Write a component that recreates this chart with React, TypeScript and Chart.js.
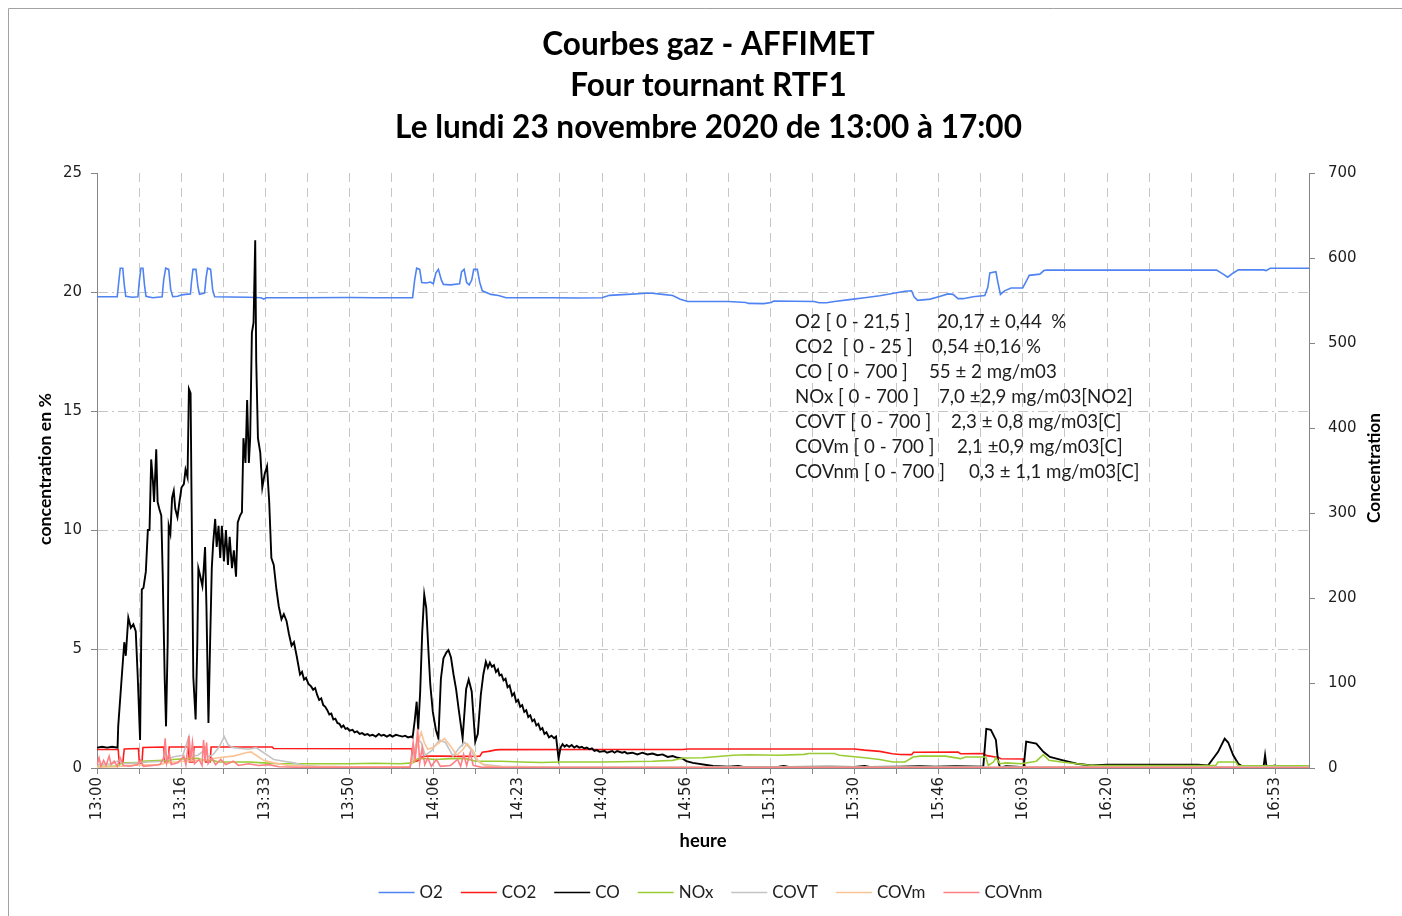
import React, { useEffect, useRef } from 'react';
import { Chart, registerables } from 'chart.js';

Chart.register(...registerables);

// ---------------- DATA ----------------
const TITLE_LINES = [
  'Courbes gaz - AFFIMET',
  'Four tournant RTF1',
  'Le lundi 23 novembre 2020 de 13:00 à 17:00',
];

// x values are minutes since 13:00 ; grid every 500 s, labels every 1000 s
const X_MIN = 0;
const X_MAX = 240;
const X_GRID_STEP = 500 / 60;
const X_LABEL_STEP = 1000 / 60;
const X_TICK_LABELS = [
  '13:00', '13:16', '13:33', '13:50', '14:06', '14:23', '14:40', '14:56',
  '15:13', '15:30', '15:46', '16:03', '16:20', '16:36', '16:53',
];

const LEFT_MAX = 25;
const LEFT_STEP = 5;
const RIGHT_MAX = 700;
const RIGHT_STEP = 100;

const SERIES_NAMES = ['O2', 'CO2', 'CO', 'NOx', 'COVT', 'COVm', 'COVnm'];
const SERIES_COLORS = ['#4f83f2', '#ff1a1a', '#000000', '#99cc33', '#c4c4c4', '#fac394', '#ff7f84'];
const SERIES_AXES = ['yPct', 'yPct', 'yMg', 'yMg', 'yMg', 'yMg', 'yMg'];

// O2 (%), left axis
const O2: [number, number][] = [
  [0, 19.8], [4.0, 19.8], [4.3, 20.4], [4.6, 21.0], [5.1, 21.0], [5.4, 20.3], [5.7, 19.82], [7, 19.78],
  [8.1, 19.8], [8.4, 20.5], [8.7, 21.0], [9.1, 21.0], [9.4, 20.3], [9.7, 19.82], [11, 19.76], [12.9, 19.8],
  [13.2, 20.5], [13.6, 21.0], [14.2, 20.95], [14.6, 20.1], [15, 19.8], [16, 19.82], [16.8, 19.88], [17.5, 19.9],
  [18.5, 19.92], [18.7, 20.4], [19.0, 20.95], [19.6, 20.95], [20, 20.2], [20.3, 19.9], [21.3, 19.95], [21.6, 20.6],
  [21.9, 21.0], [22.5, 20.95], [22.9, 20.1], [23.3, 19.8], [30, 19.78], [32.5, 19.76], [33, 19.7], [33.5, 19.76],
  [40, 19.76], [50, 19.77], [55, 19.76], [62.5, 19.76], [62.9, 20.5], [63.3, 21.0], [63.9, 20.95], [64.3, 20.4],
  [65.2, 20.38], [66, 20.42], [66.6, 20.35], [67.1, 20.8], [67.6, 20.95], [68.2, 20.5], [68.6, 20.32], [70, 20.3],
  [71.8, 20.35], [72.2, 20.85], [72.7, 20.95], [73.2, 20.4], [73.7, 20.3], [74.2, 20.5], [74.6, 20.95], [75.3, 20.95],
  [75.8, 20.4], [76.3, 20.05], [78, 19.9], [79.5, 19.85], [81, 19.76], [90, 19.76], [95, 19.75], [100, 19.76],
  [101.5, 19.86], [105, 19.9], [108, 19.94], [109.5, 19.96], [112, 19.9], [114, 19.85], [115.5, 19.7], [117, 19.6],
  [125, 19.6], [128.5, 19.56], [129, 19.52], [132, 19.51], [133.5, 19.56], [134, 19.62], [142, 19.6], [143, 19.55],
  [144.5, 19.55], [146, 19.6], [149, 19.68], [152, 19.76], [155, 19.84], [157.5, 19.94], [160, 20.03], [161.3, 20.05],
  [161.8, 19.8], [162.5, 19.65], [165, 19.7], [167, 19.82], [168.5, 19.92], [169.5, 19.9], [170.5, 19.72], [171.5, 19.72],
  [173.5, 19.8], [175.8, 19.85], [176.4, 20.2], [176.8, 20.8], [178, 20.85], [178.4, 20.4], [178.9, 19.9], [179.7, 20.05],
  [181, 20.17], [183.3, 20.17], [184, 20.45], [184.6, 20.7], [186.7, 20.75], [187.5, 20.9], [188, 20.92], [221.7, 20.92],
  [223, 20.75], [223.9, 20.62], [225, 20.8], [226, 20.93], [231, 20.93], [231.5, 20.9], [232.3, 21.0], [240, 21.0],
];

// CO2 (%), left axis
const CO2: [number, number][] = [
  [0, 0.78], [4.2, 0.78], [4.4, 0.2], [5.1, 0.2], [5.4, 0.8], [8.2, 0.82], [8.4, 0.2], [8.9, 0.2], [9.1, 0.86],
  [13.2, 0.88], [13.4, 0.25], [14.1, 0.25], [14.3, 0.88], [18.1, 0.88], [18.3, 0.25], [19.0, 0.25], [19.2, 0.88],
  [21.3, 0.88], [21.5, 0.25], [22.4, 0.25], [22.6, 0.88], [34.7, 0.88], [35.0, 0.82], [62.3, 0.81], [62.6, 0.25],
  [63.5, 0.3], [64.2, 0.45], [65, 0.5], [68, 0.5], [72, 0.49], [75.8, 0.5], [76.3, 0.66], [77.5, 0.7], [79, 0.76],
  [80, 0.77], [100, 0.78], [116, 0.78], [117, 0.8], [150, 0.8], [152, 0.75], [155, 0.7], [157.5, 0.6], [159, 0.57],
  [161.3, 0.56], [161.7, 0.66], [170.5, 0.67], [171, 0.6], [175.5, 0.61], [176.2, 0.52], [178.5, 0.44], [179, 0.39],
  [183.4, 0.38], [183.8, 0.06], [240, 0.04],
];

// CO (mg/m03), right axis
const CO: [number, number][] = [
  [0, 24], [1, 25], [2, 24], [3, 25], [4.07, 24], [4.2, 49], [4.9, 107], [5.4, 148], [5.7, 132], [6.2, 177],
  [6.7, 165], [7.2, 169], [7.67, 161], [8.07, 107], [8.53, 33], [8.87, 210], [9.2, 212], [9.67, 231], [10.07, 280],
  [10.4, 280], [10.73, 363], [11.07, 338], [11.3, 313], [11.73, 375], [12, 313], [12.33, 305], [12.73, 297], [13, 231],
  [13.4, 107], [13.67, 49], [14, 148], [14.2, 285], [14.53, 276], [14.87, 318], [15.2, 326], [15.5, 305], [15.93, 295],
  [16.33, 313], [16.73, 330], [17.2, 334], [17.53, 351], [17.93, 342], [18.2, 446], [18.53, 441], [18.73, 313],
  [19.07, 107], [19.53, 57], [19.87, 148], [20.07, 235], [20.4, 227], [20.87, 214], [21.1, 231], [21.4, 260],
  [21.67, 190], [22.07, 53], [22.4, 148], [22.73, 235], [23, 264], [23.4, 293], [23.7, 260], [24.07, 285], [24.4, 247],
  [24.73, 285], [25.13, 243], [25.53, 280], [25.93, 239], [26.27, 272], [26.73, 235], [27.1, 256], [27.53, 225],
  [27.87, 289], [28.33, 297], [28.7, 301], [29, 388], [29.4, 359], [29.73, 433], [30.07, 359], [30.33, 388],
  [30.67, 512], [31, 524], [31.33, 621], [31.53, 479], [31.87, 388], [32.33, 371], [32.73, 330], [33.2, 346],
  [33.67, 355], [34.1, 313], [34.53, 247], [35, 239], [35.53, 210], [36, 190], [36.53, 175], [37, 181], [37.53, 173],
  [38, 158], [38.53, 144], [39, 148], [39.53, 132], [40.2, 110], [40.6, 113], [41, 104], [41.4, 106], [41.87, 99],
  [42.4, 96], [42.8, 92], [43.2, 94], [43.6, 86], [44, 80], [44.4, 82], [44.8, 74], [45.2, 72], [45.6, 68], [46, 63],
  [46.4, 64], [46.8, 57], [47.2, 58], [47.6, 53], [48, 52], [48.4, 48], [48.8, 50], [49.2, 46], [49.6, 47], [50, 44],
  [50.6, 45], [51, 42], [51.5, 43], [52, 40], [52.5, 41], [53, 39], [53.6, 40], [54, 38], [54.6, 39], [55.2, 37],
  [55.8, 40], [56.3, 38], [56.8, 39], [57.4, 37], [58, 39], [58.5, 37], [59.2, 39], [59.8, 38], [60.5, 37], [61, 38],
  [61.6, 36], [62.2, 37], [62.5, 36], [62.9, 55], [63.3, 78], [63.6, 45], [64.0, 90], [64.4, 160], [64.8, 204],
  [65.2, 188], [65.7, 130], [66.0, 98], [66.5, 66], [67.1, 45], [67.6, 35], [68.1, 105], [68.6, 129], [69.2, 136],
  [69.6, 138.6], [70.1, 130], [70.6, 110], [71.1, 93], [71.6, 70], [72.4, 35], [73.1, 93], [73.6, 104], [74.2, 90],
  [74.9, 31], [75.4, 40], [76.0, 86], [76.5, 110], [77, 125], [77.4, 118], [77.8, 124], [78.2, 119], [78.6, 121],
  [79, 113], [79.4, 116], [79.7, 109], [80.1, 110], [80.5, 103], [80.9, 105], [81.3, 95], [81.7, 97], [82.2, 85],
  [82.6, 88], [83, 78], [83.4, 80], [83.8, 72], [84.2, 74], [84.6, 66], [85, 68], [85.4, 60], [85.8, 62], [86.2, 55],
  [86.6, 57], [87, 50], [87.4, 52], [87.8, 45], [88.2, 47], [88.6, 40], [89, 42], [89.5, 36], [90, 38], [90.5, 35],
  [90.9, 37], [91.4, 11], [91.8, 24], [92.2, 28], [92.6, 25], [93, 27], [93.5, 25], [94, 27], [94.5, 24], [95, 26],
  [95.5, 24], [96, 25], [96.5, 23], [97, 24], [97.5, 22], [98, 23], [98.5, 20], [99, 21], [99.5, 19], [100.5, 20],
  [101, 18], [102, 20], [102.5, 18], [103, 20], [104, 18], [104.5, 19], [105, 17], [106, 18], [107, 16], [108, 18],
  [109, 16], [110, 17], [111, 15], [112, 16], [113, 13], [114, 14], [115, 12], [116, 11], [116.7, 8], [118, 6],
  [122, 2.4], [125, 1.5], [127, 2.5], [128, 1.2], [135, 1.5], [136, 2.5], [137, 1.2], [145, 1.5], [150, 1.2],
  [152, 2.5], [153, 1.2], [159, 1.5], [163, 2], [166, 1.5], [170, 2], [175.5, 1.5], [176.1, 46], [177, 45], [178, 33],
  [178.4, 10], [178.8, 0.5], [180, 2], [182, 1.5], [183.5, 1], [184, 31], [186, 28.7], [187.4, 19], [188.7, 13],
  [191.3, 9], [194, 5], [197, 3], [200, 4], [210, 4], [218, 4], [220, 3], [222, 19], [223.3, 34.6], [224, 30],
  [225, 15], [226, 5], [227, 1], [231, 1], [231.3, 15], [231.6, 1], [233.3, 3], [234, 1], [236.5, 2.5], [237, 1],
  [238.5, 1],
];

// NOx (mg/m03 [NO2]), right axis
const NOX: [number, number][] = [
  [0, 2], [4.3, 2], [4.6, 5], [5.5, 6], [8.3, 6.3], [9, 8], [13, 9], [14, 8], [15, 10], [18, 11], [20, 11.5],
  [21, 9], [23, 9], [24, 7], [30, 7], [33, 6], [36, 5], [40, 5], [50, 5], [55, 5.5], [60, 5], [62.5, 6], [63.5, 11],
  [65, 11], [67, 10], [70, 11], [73, 11], [75, 8], [77, 8], [80, 8], [84, 7], [88, 6.5], [92, 7], [100, 7],
  [110, 8], [114, 9], [116, 11.8], [120, 12], [126, 15], [129, 15.5], [135, 15], [140, 16], [141, 17], [146, 17],
  [147, 15], [152, 12], [155, 10], [157.6, 7], [160, 7], [161.6, 13], [163, 14], [168, 14], [171, 11], [172, 13],
  [176, 13], [176.5, 3], [177.5, 7], [178, 12], [178.8, 5], [180, 6], [183, 5], [186, 8], [186.7, 12], [187.4, 15.7],
  [188.5, 9], [191, 7], [194, 5], [197, 3], [210, 2.8], [221.5, 2.8], [222, 7], [225.5, 7], [226, 2.5], [240, 2.5],
];

// COVT (mg/m03 [C]), right axis
const COVT: [number, number][] = [
  [0, 4], [3, 5], [4.4, 9], [5, 5], [8, 6], [10, 7], [13, 8], [13.5, 18], [14, 9], [15, 13], [17, 15], [18.2, 37],
  [18.6, 14], [20, 15], [21.5, 22], [22, 13], [23, 16], [24.2, 25], [25.2, 37], [26, 27], [27, 24], [28.5, 23],
  [30, 22], [31.5, 24], [32.5, 20], [34, 14], [35, 10], [37, 8], [39, 6], [41, 3], [44, 2], [50, 1.5], [62, 1.5],
  [62.7, 18], [63.5, 34], [64.2, 30], [65, 15], [66.2, 20], [67.8, 33], [69, 30], [70.5, 14], [71.8, 24], [72.8, 30],
  [74, 22], [75, 10], [76.5, 4], [80, 2], [90, 1], [240, 1],
];

// COVm (mg/m03 [C]), right axis
const COVM: [number, number][] = [
  [0, 1], [4, 1.5], [6, 3], [12, 4], [14, 6], [17, 8], [20, 9], [22, 10], [24, 12], [27, 14], [29.5, 18], [30.5, 19],
  [31.5, 15], [33, 9], [35, 6], [38, 3], [42, 2], [50, 1.5], [62, 1.5], [62.8, 12], [63.6, 30], [64.2, 42],
  [64.8, 30], [65.5, 22], [66.5, 24], [68.8, 34.6], [70, 26], [71.2, 15], [72.5, 22], [73.3, 28.7], [74.5, 20],
  [75.5, 8], [77, 2.5], [80, 1.5], [90, 0.8], [240, 0.5],
];

// COVnm (mg/m03 [C]), right axis
const COVNM: [number, number][] = [
  [0, 3], [0.4, 12], [0.8, 2], [1.3, 9], [1.8, 3], [2.4, 14], [2.8, 4], [3.4, 8], [4.0, 2], [4.6, 12], [5.2, 3],
  [6.5, 2], [8, 4], [8.6, 9], [9.2, 2], [11, 3], [12.5, 4], [13.2, 12], [13.5, 35], [13.8, 6], [14.3, 18], [14.7, 4],
  [16, 6], [17.2, 14], [17.6, 4], [18.0, 25], [18.2, 38], [18.5, 8], [18.9, 30], [19.3, 5], [20.2, 10], [20.8, 3],
  [21.1, 33], [21.4, 8], [21.7, 30], [22.0, 5], [22.7, 12], [23.5, 4], [24.5, 10], [25.5, 4], [27, 8], [28, 3],
  [30, 5], [32, 3], [34, 4], [36, 1.5], [40, 0.8], [62, 0.8], [62.6, 30], [63.0, 8], [63.5, 46], [63.9, 6],
  [64.4, 24], [64.9, 4], [65.5, 12], [66.2, 2], [67.2, 10], [68, 2], [70, 3], [71.4, 10], [72.0, 2], [72.6, 16],
  [73.2, 3], [73.9, 18], [74.5, 3], [76, 1], [80, 0.5], [240, 0.3],
];

const SERIES_POINTS = [O2, CO2, CO, NOX, COVT, COVM, COVNM];

const ANNOTATION_LABELS = [
  'O2 [ 0 - 21,5 ]',
  'CO2  [ 0 - 25 ]',
  'CO [ 0 - 700 ]',
  'NOx [ 0 - 700 ]',
  'COVT [ 0 - 700 ]',
  'COVm [ 0 - 700 ]',
  'COVnm [ 0 - 700 ]',
];
const ANNOTATION_VALUES = [
  '20,17 ± 0,44  %',
  '0,54 ±0,16 %',
  '55 ± 2 mg/m03',
  '7,0 ±2,9 mg/m03[NO2]',
  '2,3 ± 0,8 mg/m03[C]',
  '2,1 ±0,9 mg/m03[C]',
  '0,3 ± 1,1 mg/m03[C]',
];

const LEFT_AXIS_TITLE = 'concentration en %';
const RIGHT_AXIS_TITLE = 'Concentration';
const X_AXIS_TITLE = 'heure';

// ---------------- LAYOUT ----------------
const W = 1402;
const H = 916;
const PLOT = { left: 97, right: 1309, top: 173, bottom: 768 };
const AXIS_COLOR = '#868686';
const GRID_COLOR = '#c6c6c6';
const TEXT_COLOR = '#1e1e1e';
const TRANSPARENT = 'rgba(0,0,0,0)';
const ANNOT_VALUE_X = [937, 932, 929, 939, 951, 957, 969];

function fitSize(ctx: CanvasRenderingContext2D, text: string, weight: string, family: string, target: number) {
  ctx.font = `${weight} 100px ${family}`;
  const w = ctx.measureText(text).width;
  return (100 * target) / w;
}

function xLabel(value: number) {
  const idx = Math.round(value / X_LABEL_STEP);
  if (Math.abs(value - idx * X_LABEL_STEP) < 1e-6 && idx >= 0 && idx < X_TICK_LABELS.length) {
    return X_TICK_LABELS[idx];
  }
  return '';
}

const decorPlugin = {
  id: 'decor',
  beforeDraw(chart: any) {
    const ctx = chart.ctx as CanvasRenderingContext2D;
    ctx.save();
    ctx.fillStyle = '#ffffff';
    ctx.fillRect(0, 0, chart.width, chart.height);
    ctx.strokeStyle = '#a2a2a2';
    ctx.lineWidth = 1;
    ctx.beginPath();
    ctx.moveTo(8.5, H);
    ctx.lineTo(8.5, 8.5);
    ctx.lineTo(W, 8.5);
    ctx.stroke();
    ctx.restore();
  },
  afterDraw(chart: any) {
    const ctx = chart.ctx as CanvasRenderingContext2D;
    ctx.save();
    ctx.fillStyle = '#000';
    ctx.textAlign = 'center';
    ctx.textBaseline = 'middle';

    // Title
    const ts = fitSize(ctx, TITLE_LINES[2], 'bold', 'Lato', 627);
    ctx.font = `bold ${ts}px Lato`;
    const titleY = [45, 86, 128];
    TITLE_LINES.forEach((line, i) => ctx.fillText(line, 708.5, titleY[i]));

    // Axis titles
    const ls = fitSize(ctx, LEFT_AXIS_TITLE, 'bold', 'Lato', 152);
    ctx.font = `bold ${ls}px Lato`;
    ctx.save();
    ctx.translate(45, 469);
    ctx.rotate(-Math.PI / 2);
    ctx.fillText(LEFT_AXIS_TITLE, 0, 0);
    ctx.restore();

    const rs = fitSize(ctx, RIGHT_AXIS_TITLE, 'bold', 'Lato', 110);
    ctx.font = `bold ${rs}px Lato`;
    ctx.save();
    ctx.translate(1374, 468);
    ctx.rotate(-Math.PI / 2);
    ctx.fillText(RIGHT_AXIS_TITLE, 0, 0);
    ctx.restore();

    const hs = fitSize(ctx, X_AXIS_TITLE, 'bold', 'Lato', 47);
    ctx.font = `bold ${hs}px Lato`;
    ctx.fillText(X_AXIS_TITLE, 703, 841);

    // Annotation block
    const as = fitSize(ctx, ANNOTATION_LABELS[6], 'normal', 'Lato', 150);
    ctx.font = `${as}px Lato`;
    ctx.fillStyle = TEXT_COLOR;
    ctx.textAlign = 'left';
    ANNOTATION_LABELS.forEach((lab, i) => {
      const y = 321.5 + i * 25.1;
      ctx.fillText(lab, 795, y);
      ctx.fillText(ANNOTATION_VALUES[i], ANNOT_VALUE_X[i], y);
    });

    // Legend
    const datasets = chart.data.datasets;
    const gs = fitSize(ctx, 'COVnm', 'normal', 'Lato', 58);
    ctx.font = `${gs}px Lato`;
    const lineLen = 36;
    const gap = 5;
    const itemGap = 18;
    const widths = datasets.map((d: any) => lineLen + gap + ctx.measureText(d.label).width);
    const total = widths.reduce((a: number, b: number) => a + b, 0) + itemGap * (widths.length - 1);
    let x = 710.5 - total / 2;
    const ly = 892;
    datasets.forEach((d: any, i: number) => {
      ctx.strokeStyle = d.borderColor;
      ctx.lineWidth = 1.5;
      ctx.beginPath();
      ctx.moveTo(x, ly + 0.5);
      ctx.lineTo(x + lineLen, ly + 0.5);
      ctx.stroke();
      ctx.fillStyle = TEXT_COLOR;
      ctx.fillText(d.label, x + lineLen + gap, ly + 1);
      x += widths[i] + itemGap;
    });
    ctx.restore();
  },
};

export default function App() {
  const canvasRef = useRef<HTMLCanvasElement | null>(null);

  useEffect(() => {
    const canvas = canvasRef.current;
    if (!canvas) return;
    const tickFont = { family: 'DejaVu Sans', size: 15 };
    const chart = new Chart(canvas, {
      type: 'line',
      data: {
        datasets: SERIES_NAMES.map((name, i) => ({
          label: name,
          data: SERIES_POINTS[i].map(([x, y]) => ({ x, y })),
          borderColor: SERIES_COLORS[i],
          backgroundColor: SERIES_COLORS[i],
          borderWidth: i === 2 ? 1.9 : 1.6,
          pointRadius: 0,
          tension: 0,
          fill: false,
          yAxisID: SERIES_AXES[i],
          order: SERIES_NAMES.length - i,
        })),
      },
      options: {
        responsive: false,
        animation: false,
        devicePixelRatio: 1,
        events: [],
        layout: { padding: { top: PLOT.top, left: 0, right: 0, bottom: 0 } },
        plugins: {
          legend: { display: false },
          title: { display: false },
          tooltip: { enabled: false },
        },
        scales: {
          x: {
            type: 'linear',
            min: X_MIN,
            max: X_MAX,
            ticks: {
              stepSize: X_GRID_STEP,
              includeBounds: false,
              autoSkip: false,
              maxRotation: 90,
              minRotation: 90,
              padding: 3,
              color: TEXT_COLOR,
              font: tickFont,
              callback: (v: any) => xLabel(Number(v)),
            },
            grid: {
              color: (c: any) => (c.tick && c.tick.value < 0.001 ? TRANSPARENT : GRID_COLOR),
              lineWidth: 1,
              tickLength: 6,
              tickColor: AXIS_COLOR,
            },
            border: { color: AXIS_COLOR, width: 1, dash: [9, 6] },
            afterFit: (s: any) => {
              s.height = H - PLOT.bottom;
            },
          },
          yPct: {
            type: 'linear',
            position: 'left',
            min: 0,
            max: LEFT_MAX,
            ticks: { stepSize: LEFT_STEP, padding: 9, color: TEXT_COLOR, font: tickFont },
            grid: {
              color: (c: any) =>
                c.tick && (c.tick.value <= 0 || c.tick.value >= LEFT_MAX) ? TRANSPARENT : GRID_COLOR,
              lineWidth: 1,
              tickLength: 6,
              tickColor: AXIS_COLOR,
            },
            border: { color: AXIS_COLOR, width: 1, dash: [10, 4, 2, 4] },
            afterFit: (s: any) => {
              s.width = PLOT.left;
            },
          },
          yMg: {
            type: 'linear',
            position: 'right',
            min: 0,
            max: RIGHT_MAX,
            ticks: { stepSize: RIGHT_STEP, padding: 13, color: TEXT_COLOR, font: tickFont },
            grid: { drawOnChartArea: false, tickLength: 6, tickColor: AXIS_COLOR, color: AXIS_COLOR },
            border: { color: AXIS_COLOR, width: 1 },
            afterFit: (s: any) => {
              s.width = W - PLOT.right;
            },
          },
        },
      } as any,
      plugins: [decorPlugin],
    });
    return () => chart.destroy();
  }, []);

  return (
    <div style={{ position: 'fixed', left: 0, top: 0, width: W, height: H, background: '#fff' }}>
      <canvas ref={canvasRef} width={W} height={H} style={{ display: 'block', width: W, height: H }} />
    </div>
  );
}
